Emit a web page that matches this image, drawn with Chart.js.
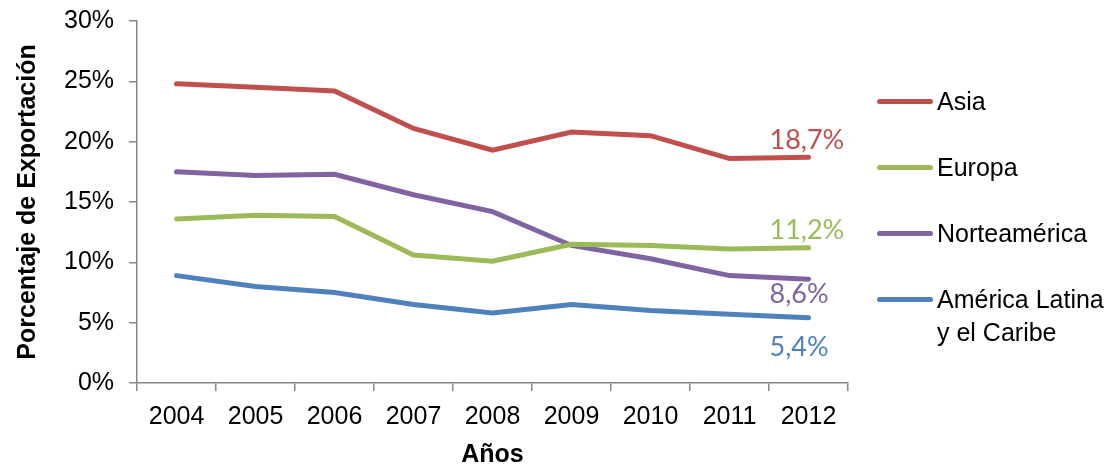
<!DOCTYPE html>
<html lang="es">
<head>
  <meta charset="UTF-8" />
  <title>Porcentaje de Exportación</title>
  <script src="https://cdn.jsdelivr.net/npm/chart.js"></script>
  <style>
    body { margin: 0; background: #fff; }
    #wrap { position: relative; width: 1120px; height: 470px; }
    #leyenda { position: absolute; left: 877px; top: 85px; font-family: "Liberation Sans", Arial, sans-serif; font-size: 25px; color: #000; }
    .item { display: flex; align-items: flex-start; height: 66px; }
    .linea { width: 56px; height: 5px; border-radius: 3px; margin-top: 14px; margin-right: 4px; flex: none; }
    .txt { line-height: 33px; }
  </style>
</head>
<body>
  <div id="wrap">
    <canvas id="grafico" width="1120" height="470"></canvas>
    <div id="leyenda"></div>
  </div>

  <script>
    const anios = ['2004', '2005', '2006', '2007', '2008', '2009', '2010', '2011', '2012'];
    const asia = [24.8, 24.5, 24.2, 21.1, 19.3, 20.8, 20.5, 18.6, 18.7];
    const europa = [13.6, 13.9, 13.8, 10.6, 10.1, 11.5, 11.4, 11.1, 11.2];
    const norteamerica = [17.5, 17.2, 17.3, 15.6, 14.2, 11.4, 10.3, 8.9, 8.6];
    const americaLatina = [8.9, 8.0, 7.5, 6.5, 5.8, 6.5, 6.0, 5.7, 5.4];

    const nombres = ['Asia', 'Europa', 'Norteamérica', 'América Latina\ny el Caribe'];
    const colores = ['#C0504D', '#9BBB59', '#8064A2', '#4F81BD'];
    const desplazamiento = [-17, -18, 15, 29]; // posición vertical de la etiqueta final

    const fuente = '"Liberation Sans", Arial, sans-serif';

    // etiqueta con el último valor de cada serie
    const etiquetaFinal = {
      id: 'etiquetaFinal',
      afterDatasetsDraw(chart) {
        const ctx = chart.ctx;
        ctx.save();
        ctx.font = '27px Lato, "Open Sans", sans-serif';
        ctx.textAlign = 'left';
        ctx.textBaseline = 'middle';
        chart.data.datasets.forEach((ds, i) => {
          const pts = chart.getDatasetMeta(i).data;
          const p = pts[pts.length - 1];
          const v = ds.data[ds.data.length - 1];
          ctx.fillStyle = ds.borderColor;
          ctx.fillText(v.toFixed(1).replace('.', ',') + '%', p.x - 39, p.y + desplazamiento[i]);
        });
        ctx.restore();
      }
    };

    const series = [asia, europa, norteamerica, americaLatina];

    new Chart(document.getElementById('grafico'), {
      type: 'line',
      data: {
        labels: anios,
        datasets: series.map((d, i) => ({
          label: nombres[i],
          data: d,
          borderColor: colores[i],
          backgroundColor: colores[i],
          borderWidth: 5,
          pointRadius: 0,
          tension: 0,
          borderCapStyle: 'round'
        }))
      },
      options: {
        responsive: false,
        animation: false,
        layout: { padding: { top: 1, right: 272, bottom: 2, left: 13 } },
        plugins: { legend: { display: false }, tooltip: { enabled: false } },
        scales: {
          x: {
            offset: true,
            border: { color: '#868686', width: 1.5 },
            grid: { offset: true, drawOnChartArea: false, color: '#868686', tickLength: 8, lineWidth: 1.5 },
            ticks: { color: '#000', font: { family: fuente, size: 25 }, padding: 11 },
            title: { display: true, text: 'Años', color: '#000', font: { family: fuente, size: 25, weight: 'bold', lineHeight: 1 }, padding: { top: 0, bottom: 0 } }
          },
          y: {
            min: 0,
            max: 30,
            border: { color: '#868686', width: 1.5 },
            grid: { drawOnChartArea: false, color: '#868686', tickLength: 8, lineWidth: 1.5 },
            ticks: { stepSize: 5, color: '#000', font: { family: fuente, size: 25 }, padding: 15, callback: v => v + '%' },
            title: { display: true, text: 'Porcentaje de Exportación', color: '#000', font: { family: fuente, size: 25, weight: 'bold' }, padding: { top: 0, bottom: 6 } },
            afterFit: s => { s.paddingTop = 21; }
          }
        }
      },
      plugins: [etiquetaFinal]
    });

    const ley = document.getElementById('leyenda');
    nombres.forEach((n, i) => {
      const it = document.createElement('div');
      it.className = 'item';
      it.innerHTML = '<div class="linea" style="background:' + colores[i] + '"></div><div class="txt">' + n.replace('\n', '<br>') + '</div>';
      ley.appendChild(it);
    });
  </script>
</body>
</html>
